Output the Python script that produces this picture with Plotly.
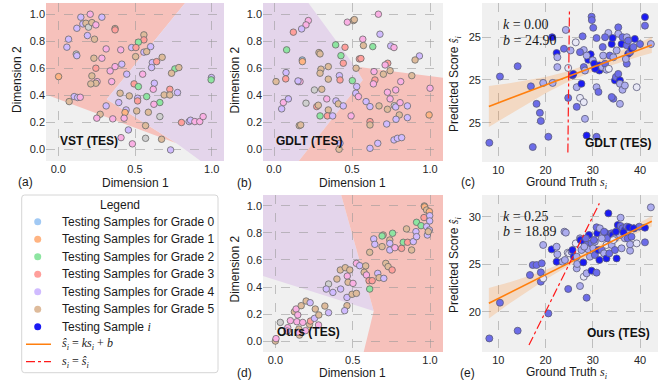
import plotly.graph_objects as go

W, H = 661, 381
FONT = 'Liberation Sans'
SERIF = 'Liberation Serif'

# ---------------- colours ----------------
GRADE_COLORS = ['#a1c9f4', '#ffb482', '#8de5a1', '#ff9f9b', '#d0bbff', '#debb9b', '#fab0e4', '#cfcfcf']
SHADE_COLORS = ['#e8e8f6', '#acacee', '#6c6ce8', '#1a1af4']
SAMPLE_BLUE = '#1a1af4'
SALMON = '#f6c1bb'
LILAC = '#e4d5eb'

# ---------------- data ----------------
legend_marker_labels = ['Testing Samples for Grade 0', 'Testing Samples for Grade 1', 'Testing Samples for Grade 2',
                        'Testing Samples for Grade 3', 'Testing Samples for Grade 4', 'Testing Samples for Grade 5',
                        'Testing Sample <span style="font-family:Liberation Serif"><i>i</i></span>']
legend_line_labels = ['<span style="font-family:Liberation Serif"><i>ŝ<sub>i</sub></i> = <i>ks<sub>i</sub></i> + <i>b</i></span>',
                      '<span style="font-family:Liberation Serif"><i>s<sub>i</sub></i> = <i>ŝ<sub>i</sub></i></span>']

# (x, y, grade) -- grade 6/7 are extra pastel classes shown without legend entries
vst_pts = [(0.147,0.978,4),(0.208,1.0,6),(0.284,0.978,4),(0.160,0.928,4),(0.180,0.933,5),(0.197,0.904,7),
           (0.219,0.938,5),(0.245,0.921,6),(0.121,0.896,4),(0.370,0.894,5),(0.370,0.884,3),(0.190,0.842,4),
           (0.067,0.815,4),(0.236,0.815,5),(0.558,0.847,5),(0.558,0.810,3),(0.522,0.793,2),(0.056,0.756,4),
           (0.312,0.743,6),(0.407,0.736,6),(0.478,0.753,4),(0.506,0.753,3),(0.558,0.719,4),(0.576,0.723,5),
           (0.602,0.760,4),(0.117,0.705,7),(0.121,0.693,4),(0.232,0.674,5),(0.284,0.674,6),(0.504,0.686,5),
           (0.677,0.681,5),(0.613,0.642,4),(0.641,0.649,3),(0.414,0.630,4),(0.245,0.600,3),(0.370,0.612,6),
           (0.338,0.580,6),(0.608,0.605,4),(0.760,0.595,2),(0.786,0.605,5),(0.738,0.563,5),(0.002,0.538,1),
           (0.446,0.556,4),(0.550,0.556,6),(0.219,0.543,5),(0.998,0.531,4),(0.996,0.514,2),(0.253,0.501,6),
           (0.245,0.489,5),(0.212,0.484,5),(0.348,0.501,6),(0.626,0.489,4),(0.494,0.484,3),(0.522,0.464,2),
           (0.619,0.444,6),(0.727,0.444,3),(0.690,0.402,5),(0.727,0.402,5),(0.777,0.420,4),(0.403,0.415,5),
           (0.463,0.395,5),(0.576,0.390,2),(0.517,0.378,4),(0.517,0.358,3),(0.104,0.390,4),(0.126,0.383,4),
           (0.143,0.385,6),(0.071,0.353,5),(0.394,0.346,4),(0.662,0.346,2),(0.623,0.333,6),(0.312,0.321,4),
           (0.511,0.284,5),(0.587,0.274,5),(0.442,0.291,4),(0.435,0.272,1),(0.273,0.259,5),(0.251,0.230,6),
           (0.355,0.225,6),(0.429,0.230,6),(0.662,0.242,7),(0.569,0.175,5),(0.803,0.198,3),(0.853,0.205,4),
           (0.862,0.215,4),(0.890,0.205,6),(0.922,0.205,6),(0.944,0.242,6),(0.457,0.143,4),(0.409,0.086,6),
           (0.569,0.081,7),(0.673,0.074,5),(0.483,0.040,6),(0.732,-0.005,4)]

gdlt_pts = [(0.669,1.0,6),(0.220,0.953,6),(0.205,0.921,6),(0.177,0.891,4),(0.124,0.867,3),(0.470,0.941,6),
            (0.509,0.953,5),(0.515,0.960,5),(0.569,0.815,6),(0.679,0.852,4),(0.573,0.768,5),(0.633,0.760,2),
            (0.748,0.765,4),(0.769,0.753,6),(0.395,0.773,2),(0.455,0.755,3),(0.288,0.716,5),(0.295,0.706,5),
            (0.429,0.693,2),(0.181,0.661,0),(0.182,0.649,1),(0.547,0.669,3),(0.557,0.672,3),(0.444,0.637,3),
            (0.932,0.691,4),(0.904,0.661,5),(0.729,0.637,3),(0.712,0.624,6),(0.348,0.612,5),(0.301,0.593,5),
            (0.295,0.563,5),(0.526,0.600,5),(0.744,0.582,5),(0.641,0.575,6),(0.701,0.556,5),(0.883,0.545,5),
            (0.419,0.545,4),(0.423,0.513,3),(0.348,0.519,5),(0.502,0.508,2),(0.647,0.513,3),(0.637,0.484,6),
            (0.812,0.501,6),(0.156,0.501,5),(0.167,0.501,6),(0.530,0.464,4),(0.259,0.439,7),(0.306,0.444,5),
            (1.0,0.452,6),(0.780,0.439,6),(0.727,0.422,6),(0.524,0.415,4),(0.541,0.390,6),(0.744,0.373,6),
            (0.338,0.373,6),(0.205,0.341,7),(0.397,0.358,4),(0.412,0.336,5),(0.444,0.321,4),(0.590,0.353,4),
            (0.615,0.316,4),(0.673,0.321,5),(0.727,0.296,5),(0.771,0.323,7),(0.780,0.313,4),(0.808,0.345,6),
            (0.855,0.321,4),(0.274,0.316,3),(0.284,0.326,5),(0.348,0.291,5),(0.295,0.247,2),(0.342,0.247,3),
            (0.376,0.247,4),(0.494,0.247,6),(0.803,0.254,5),(0.782,0.222,4),(0.855,0.234,4),(0.994,0.254,1),
            (0.615,0.205,3),(0.615,0.180,5),(0.722,0.187,4),(0.162,0.175,5),(0.171,0.180,5),(0.769,0.069,4),
            (0.791,0.081,4),(0.818,0.086,4),(0.423,0.044,4),(0.417,0.0,5),(0.665,0.044,4),(0.615,0.007,4),
            (0.013,0.501,5),(0.077,0.568,4),(0.075,0.521,3),(0.081,0.736,2),(0.060,0.346,6),(0.049,0.299,4),
            (0.092,0.373,4),(0.154,0.506,4)]

ours_pts = [(0.0,0.0,5),(0.004,0.018,6),(0.032,0.138,7),(0.097,0.151,6),(0.123,0.217,5),(0.134,0.237,6),
            (0.167,0.262,5),(0.199,0.296,5),(0.225,0.284,4),(0.145,0.193,6),(0.080,0.099,6),(0.076,0.074,6),
            (0.139,0.143,6),(0.177,0.138,6),(0.152,0.089,5),(0.156,0.044,5),(0.148,0.065,6),(0.195,0.077,6),
            (0.221,0.123,5),(0.227,0.148,3),(0.253,0.168,4),(0.258,0.237,5),(0.281,0.193,5),(0.279,0.119,6),
            (0.320,0.259,5),(0.344,0.210,4),(0.344,0.422,7),(0.329,0.385,4),(0.372,0.360,4),(0.398,0.459,5),
            (0.420,0.526,5),(0.452,0.543,5),(0.481,0.526,5),(0.465,0.481,6),(0.422,0.385,4),(0.470,0.435,5),
            (0.502,0.427,6),(0.463,0.323,4),(0.496,0.346,5),(0.524,0.353,5),(0.524,0.575,6),(0.545,0.558,4),
            (0.584,0.556,5),(0.574,0.509,5),(0.589,0.489,6),(0.606,0.447,3),(0.626,0.447,3),(0.610,0.385,2),
            (0.463,0.262,5),(0.448,0.225,4),(0.662,0.501,4),(0.671,0.469,5),(0.701,0.464,4),(0.610,0.657,5),
            (0.636,0.756,4),(0.643,0.716,4),(0.690,0.699,5),(0.697,0.785,5),(0.690,0.778,2),(0.758,0.798,2),
            (0.714,0.575,5),(0.729,0.551,5),(0.755,0.526,3),(0.740,0.748,5),(0.740,0.723,4),(0.740,0.674,4),
            (0.773,0.691,6),(0.816,0.686,3),(0.827,0.731,2),(0.855,0.731,3),(0.848,0.830,5),(0.881,0.674,5),
            (0.892,0.736,4),(0.909,0.810,4),(0.913,0.773,4),(0.913,0.879,2),(0.942,0.854,2),(0.961,0.914,3),
            (0.963,1.0,5),(0.965,0.993,1),(0.978,0.970,5),(0.996,0.958,1),(0.998,0.928,4),(0.998,0.889,4),
            (0.978,0.847,4),(0.996,0.822,4),(0.983,0.785,4),(0.989,0.810,5)]

# decision regions (polygon vertices in data units)
vst_salmon = [(-0.1,1.1),(0.839,1.1),(0.316,0.37),(0.77,0.044),(-0.1,0.4135)]
vst_lilac = [(0.839,1.1),(1.1,1.1),(1.1,-0.1),(0.944,-0.1),(0.77,0.044),(0.316,0.37)]
gdlt_lilac = [(-0.1,1.1),(0.21,1.1),(0.519,0.612),(0.569,0.513),(0.15,-0.1),(-0.1,-0.1)]
gdlt_salmon = [(0.519,0.612),(1.1,0.527),(1.1,-0.1),(0.15,-0.1),(0.569,0.513)]
ours_lilac = [(-0.1,1.1),(0.421,1.1),(0.636,0.222),(-0.1,0.489)]
ours_salmon = [(0.421,1.1),(1.1,1.1),(1.1,-0.1),(0.567,-0.1),(0.636,0.222)]

# (ground truth, predicted, shade level 0..3)
gdlt_pred = [(8.1,24.753,2),(10.35,24.908,2),(14.1,24.932,2),(16.9,24.885,2),(17.3,24.743,2),(18.1,24.844,2),
             (18.8,24.823,2),(19.0,24.804,2),(19.5,24.893,1),(20.6,24.767,2),(21.5,24.893,1),(21.4,25.0,3),
             (22.35,24.963,3),(22.5,24.953,1),(22.5,24.930,1),(23.9,24.973,2),(24.3,25.017,1),(24.8,24.928,0),
             (24.8,24.858,2),(25.3,24.969,1),(25.7,24.911,3),(25.9,24.914,3),(26.4,24.988,0),(26.6,24.883,1),
             (26.6,24.837,2),(27.3,24.858,0),(27.6,24.891,3),(28.1,24.970,1),(27.85,25.002,2),(28.1,24.930,2),
             (28.35,24.922,1),(28.1,24.848,0),(28.35,24.809,1),(28.7,24.770,3),(29.05,24.947,3),(29.55,24.960,3),
             (30.0,24.946,1),(30.3,24.938,3),(29.75,25.048,2),(29.8,25.040,2),(30.1,25.022,2),(30.8,24.883,1),
             (31.2,24.872,2),(30.8,24.767,2),(30.8,24.998,2),(31.4,24.934,3),(31.4,24.922,3),(32.0,24.930,1),
             (32.2,24.957,1),(32.6,24.938,2),(32.9,24.924,1),(33.4,24.926,0),(33.6,24.957,2),(34.0,24.984,3),
             (34.35,24.953,1),(34.35,24.856,2),(34.0,24.860,2),(34.7,24.899,3),(34.9,24.907,2),(35.4,24.914,2),
             (35.75,24.899,3),(35.75,24.891,1),(36.3,24.877,1),(36.8,24.887,1),(35.75,24.844,1),(36.1,24.984,3),
             (37.2,24.981,2),(37.5,24.961,3),(37.9,24.965,2),(38.2,24.973,3),(37.2,24.938,2),(37.0,24.949,1),
             (39.3,24.883,0),(40.0,24.984,2),(41.05,25.047,3),(41.05,25.027,2),(42.3,24.984,1),(35.4,25.023,2),
             (35.4,25.008,1),(36.3,25.0,2),(37.2,25.0,1),(38.9,24.996,3),(33.3,25.010,1),(34.2,24.998,3),
             (32.6,25.0,2),(32.1,24.977,2),(35.05,24.969,1),(30.5,24.926,3),(28.7,24.957,1),(27.3,24.965,2),
             (37.5,24.992,2),(38.6,24.977,2)]

ours_pred = [(8.1,17.19,2),(10.35,20.95,2),(14.1,18.0,2),(16.7,23.86,2),(17.3,24.91,2),(18.1,24.91,2),
             (19.0,24.14,2),(19.0,23.16,2),(19.2,25.09,2),(19.5,27.02,1),(19.5,23.5,0),(20.6,19.82,2),
             (21.3,26.56,3),(22.35,26.84,1),(22.5,26.04,1),(22.35,25.26,3),(23.6,25.26,1),(24.0,28.42,1),
             (24.3,28.32,1),(24.8,22.39,2),(24.7,26.21,0),(25.0,26.14,0),(25.5,26.32,1),(25.7,26.49,3),
             (26.0,25.79,3),(24.1,25.44,1),(26.4,27.19,0),(26.6,25.79,1),(26.6,24.56,1),(26.7,25.02,1),
             (27.3,22.70,1),(27.3,27.72,1),(27.4,27.54,3),(28.0,25.19,3),(28.1,27.37,3),(28.1,23.68,0),
             (28.7,27.02,2),(28.7,24.04,1),(28.7,21.47,2),(29.05,26.56,1),(29.2,28.07,3),(29.4,25.79,1),
             (29.75,27.19,2),(29.75,24.32,3),(30.1,26.67,1),(30.45,27.37,1),(30.45,25.96,2),(30.8,24.11,2),
             (30.8,28.88,2),(30.95,28.25,3),(31.5,28.77,1),(31.2,26.49,3),(31.4,25.44,3),(31.9,26.49,2),
             (32.2,28.07,1),(32.4,26.14,1),(32.8,28.25,3),(32.9,27.02,0),(33.1,27.72,2),(32.9,25.61,3),
             (33.3,30.35,3),(33.5,26.14,2),(34.0,28.25,2),(34.2,28.07,3),(34.0,27.02,1),(34.7,27.72,1),
             (34.7,26.49,2),(35.05,25.61,3),(35.3,29.12,3),(35.9,29.02,2),(35.9,29.89,1),(36.1,26.67,1),
             (36.3,28.77,2),(36.8,28.60,3),(37.2,28.95,2),(36.8,27.72,1),(37.2,28.42,1),(37.4,27.72,2),
             (37.7,28.88,3),(37.9,26.42,1),(37.9,27.09,1),(38.2,27.89,2),(38.8,28.77,2),(39.3,27.19,0),
             (39.85,28.95,2),(41.05,27.3,2),(42.3,30.98,1),(41.05,28.84,3),(34.35,27.54,0),(35.75,28.07,1),
             (31.9,27.72,1),(34.9,28.42,3),(36.5,28.35,3),(38.6,28.77,3),(28.55,27.72,2),(27.6,26.49,1),
             (28.2,26.84,1),(30.25,27.54,2),(32.4,28.42,2)]

# regression fits (k, b in plotted units) and confidence band half widths
band_x = [8, 12, 16, 20, 24, 28, 32, 36, 40, 42.5]
gdlt_fit_k, gdlt_fit_b = 0.004174, 24.8046
gdlt_band_half = [0.048, 0.037, 0.028, 0.019, 0.013, 0.011, 0.011, 0.013, 0.016, 0.019]
ours_fit_k, ours_fit_b = 0.25, 18.89
ours_band_half = [1.6, 1.15, 0.8, 0.5, 0.33, 0.28, 0.3, 0.38, 0.48, 0.55]
gdlt_ident = [24.73, 25.06]
ours_ident = [16.5, 31.4]

dim_ticks = [0.0, 0.5, 1.0]
dim_yticks = [0.0, 0.2, 0.4, 0.6, 0.8, 1.0]
gt_ticks = [10, 20, 30, 40]
gdlt_yticks = [24.8, 24.9, 25.0]
gdlt_yticktext = ['25', '25', '25']
ours_yticks = [20, 25, 30]

# ---------------- layout helpers ----------------
def fx(px):
    return px / W

def fy(py):
    return 1 - py / H

panels = {
    'a': dict(ax='', px=(46, 224), py=(3, 161), xr=[-0.08, 1.08], yr=[-0.087, 1.083]),
    'b': dict(ax='2', px=(263, 443), py=(3, 161), xr=[-0.0705, 1.083], yr=[-0.087, 1.083]),
    'c': dict(ax='3', px=(482, 658), py=(3, 162), xr=[6.55, 43.81], yr=[24.708, 25.080]),
    'd': dict(ax='4', px=(263, 443), py=(195, 352), xr=[-0.08, 1.084], yr=[-0.081, 1.081]),
    'e': dict(ax='5', px=(482, 658), py=(195, 352), xr=[6.55, 43.81], yr=[15.76, 32.28]),
}

fig = go.Figure()

def add_embedding(key, pts):
    a = panels[key]['ax']
    fig.add_trace(go.Scatter(
        x=[p[0] for p in pts], y=[p[1] for p in pts], mode='markers', showlegend=False,
        xaxis='x' + a, yaxis='y' + a, hoverinfo='skip',
        marker=dict(size=6.5, color=[GRADE_COLORS[p[2]] for p in pts],
                    line=dict(color='#6a6a6a', width=0.8))))

add_embedding('a', vst_pts)
add_embedding('b', gdlt_pts)
add_embedding('d', ours_pts)

def add_regression(key, pts, k, b, half, ident):
    a = panels[key]['ax']
    fit = [k * x + b for x in band_x]
    up = [f + h for f, h in zip(fit, half)]
    lo = [f - h for f, h in zip(fit, half)]
    fig.add_trace(go.Scatter(x=band_x + band_x[::-1], y=up + lo[::-1], fill='toself',
                             fillcolor='rgba(255,127,14,0.2)', line=dict(width=0), mode='lines',
                             showlegend=False, xaxis='x' + a, yaxis='y' + a, hoverinfo='skip'))
    fig.add_trace(go.Scatter(
        x=[p[0] for p in pts], y=[p[1] for p in pts], mode='markers', showlegend=False,
        xaxis='x' + a, yaxis='y' + a, hoverinfo='skip',
        marker=dict(size=7, color=[SHADE_COLORS[p[2]] for p in pts],
                    line=dict(color='#5a5a7a', width=0.8))))
    fig.add_trace(go.Scatter(x=[band_x[0], band_x[-1]], y=[fit[0], fit[-1]], mode='lines',
                             line=dict(color='#ff7f0e', width=1.6), showlegend=False,
                             xaxis='x' + a, yaxis='y' + a, hoverinfo='skip'))
    fig.add_trace(go.Scatter(x=ident, y=ident, mode='lines',
                             line=dict(color='#ff1a1a', width=1.2, dash='dashdot'), showlegend=False,
                             xaxis='x' + a, yaxis='y' + a, hoverinfo='skip'))

add_regression('c', gdlt_pred, gdlt_fit_k, gdlt_fit_b, gdlt_band_half, gdlt_ident)
add_regression('e', ours_pred, ours_fit_k, ours_fit_b, ours_band_half, ours_ident)

# ---------------- legend panel (own hidden axis; entries indexed 0..8 downwards) ----------------
LEG_PX = (21.7, 218.0)
LEG_PY = (195.0, 372.7)
LEG_FIRST, LEG_STEP = 221.7, 17.5          # pixel centre of first entry, spacing
leg_w = LEG_PX[1] - LEG_PX[0]
leg_top_idx = -(LEG_FIRST - LEG_PY[0]) / LEG_STEP
leg_bot_idx = (LEG_PY[1] - LEG_FIRST) / LEG_STEP
n_mark = len(legend_marker_labels)
legend_marker_colors = GRADE_COLORS[:6] + [SAMPLE_BLUE]

fig.add_trace(go.Scatter(x=[16] * n_mark, y=list(range(n_mark)), mode='markers', showlegend=False,
                         xaxis='x6', yaxis='y6', hoverinfo='skip', cliponaxis=False,
                         marker=dict(size=7, color=legend_marker_colors, line=dict(width=0))))
for j, (col, dash, wid) in enumerate([('#ff7f0e', 'solid', 1.6), ('#ff1a1a', 'dashdot', 1.2)]):
    fig.add_trace(go.Scatter(x=[4.3, 29.3], y=[n_mark + j] * 2, mode='lines', showlegend=False,
                             xaxis='x6', yaxis='y6', hoverinfo='skip', cliponaxis=False,
                             line=dict(color=col, width=wid, dash=dash)))

# rounded legend frame in paper coordinates
def rounded_rect(x0, y0, x1, y1, r=3.0):
    rx, ry = r / W, r / H
    X0, X1, Y0, Y1 = fx(x0), fx(x1), fy(y1), fy(y0)
    return (f'M {X0 + rx},{Y0} L {X1 - rx},{Y0} Q {X1},{Y0} {X1},{Y0 + ry} '
            f'L {X1},{Y1 - ry} Q {X1},{Y1} {X1 - rx},{Y1} L {X0 + rx},{Y1} '
            f'Q {X0},{Y1} {X0},{Y1 - ry} L {X0},{Y0 + ry} Q {X0},{Y0} {X0 + rx},{Y0} Z')

def path(poly):
    return 'M ' + ' L '.join(f'{x},{y}' for x, y in poly) + ' Z'

shapes = [dict(type='path', xref='paper', yref='paper',
               path=rounded_rect(LEG_PX[0], LEG_PY[0], LEG_PX[1], LEG_PY[1]),
               fillcolor='white', line=dict(color='#d6d6d6', width=1), layer='below')]
for key, polys in [('a', [(vst_salmon, SALMON), (vst_lilac, LILAC)]),
                   ('b', [(gdlt_lilac, LILAC), (gdlt_salmon, SALMON)]),
                   ('d', [(ours_lilac, LILAC), (ours_salmon, SALMON)])]:
    a = panels[key]['ax']
    for poly, col in polys:
        shapes.append(dict(type='path', path=path(poly), xref='x' + a, yref='y' + a,
                           fillcolor=col, line=dict(width=0), layer='below'))

tickfont = dict(family=FONT, size=11, color='#262626')
grid = dict(showgrid=True, gridcolor='rgba(150,150,150,0.55)', griddash='dash', gridwidth=0.8,
            zeroline=False, showline=False, ticks='', tickfont=tickfont, automargin=False,
            fixedrange=True)

layout_axes = {}
for key, p in panels.items():
    a = p['ax']
    xd = [fx(p['px'][0]), fx(p['px'][1])]
    yd = [fy(p['py'][1]), fy(p['py'][0])]
    if key in 'abd':
        xt = dict(tickvals=dim_ticks, tickformat='.1f')
        yt = dict(tickvals=dim_yticks, tickformat='.1f')
    elif key == 'c':
        xt = dict(tickvals=gt_ticks)
        yt = dict(tickvals=gdlt_yticks, ticktext=gdlt_yticktext)
    else:
        xt = dict(tickvals=gt_ticks)
        yt = dict(tickvals=ours_yticks)
    layout_axes['xaxis' + a] = dict(domain=xd, range=p['xr'], anchor='y' + a, **xt, **grid)
    layout_axes['yaxis' + a] = dict(domain=yd, range=p['yr'], anchor='x' + a, **yt, **grid)

layout_axes['xaxis6'] = dict(domain=[fx(LEG_PX[0] + 1), fx(LEG_PX[1] - 1)], range=[1, leg_w - 1], anchor='y6',
                             visible=False, fixedrange=True, automargin=False)
layout_axes['yaxis6'] = dict(domain=[fy(LEG_PY[1]), fy(LEG_PY[0])], range=[leg_bot_idx, leg_top_idx],
                             anchor='x6', visible=False, fixedrange=True, automargin=False)

lab = dict(family=FONT, size=12, color='#1a1a1a')
ser = dict(family=SERIF, size=14, color='#1a1a1a')
bold = dict(family=FONT, size=12, color='#111111')

def ann(text, px, py, font, xanchor='center', yanchor='middle', angle=0):
    return dict(text=text, x=fx(px), y=fy(py), xref='paper', yref='paper', showarrow=False,
                xanchor=xanchor, yanchor=yanchor, font=font, textangle=angle)

pred_title = 'Predicted Score <span style="font-family:Liberation Serif"><i>ŝ<sub>i</sub></i></span>'
gt_title = 'Ground Truth <span style="font-family:Liberation Serif"><i>s<sub>i</sub></i></span>'

annotations = [
    ann('Dimension 1', 135, 182.5, lab), ann('Dimension 1', 352.5, 182.5, lab),
    ann('Dimension 1', 352.5, 373, lab),
    ann(gt_title, 567, 182.5, lab), ann(gt_title, 567, 372.5, lab),
    ann('Dimension 2', 17, 80, lab, angle=-90), ann('Dimension 2', 234.5, 80, lab, angle=-90),
    ann('Dimension 2', 234.5, 269, lab, angle=-90),
    ann(pred_title, 455, 84, lab, angle=-90), ann(pred_title, 455, 265, lab, angle=-90),
    ann('(a)', 25, 181.5, lab), ann('(b)', 244, 182.5, lab), ann('(c)', 467.5, 182, lab),
    ann('(d)', 244, 373, lab), ann('(e)', 467.5, 373, lab),
    ann('<b>VST (TES)</b>', 58, 141.5, bold, xanchor='left'),
    ann('<b>GDLT (TES)</b>', 274, 141, bold, xanchor='left'),
    ann('<b>GDLT (TES)</b>', 653, 142.5, bold, xanchor='right'),
    ann('<b>Ours (TES)</b>', 275, 331.5, bold, xanchor='left'),
    ann('<b>Ours (TES)</b>', 652, 333, bold, xanchor='right'),
    ann('<i>k</i> = 0.00', 501, 25, ser, xanchor='left'),
    ann('<i>b</i> = 24.90', 501, 40, ser, xanchor='left'),
    ann('<i>k</i> = 0.25', 501, 216.5, ser, xanchor='left'),
    ann('<i>b</i> = 18.89', 501, 231.5, ser, xanchor='left'),
]
# legend texts
annotations.append(dict(text='Legend', x=leg_w / 2 + 0.5, y=(205 - LEG_FIRST) / LEG_STEP, xref='x6', yref='y6',
                        showarrow=False, xanchor='center', yanchor='middle', font=lab))
for i, t in enumerate(legend_marker_labels + legend_line_labels):
    annotations.append(dict(text=t, x=38.3, y=i, xref='x6', yref='y6', showarrow=False,
                            xanchor='left', yanchor='middle', font=lab))

fig.update_layout(
    width=W, height=H, autosize=False,
    margin=dict(l=0, r=0, t=0, b=0, pad=0),
    paper_bgcolor='white', plot_bgcolor='#f0f0f0',
    font=dict(family=FONT, size=12, color='#1a1a1a'),
    shapes=shapes, annotations=annotations,
    showlegend=False,
    **layout_axes,
)

fig.write_html('out.html', include_plotlyjs=True, config={'displayModeBar': False},
               post_script="document.body.style.margin='0';document.body.style.padding='0';")
